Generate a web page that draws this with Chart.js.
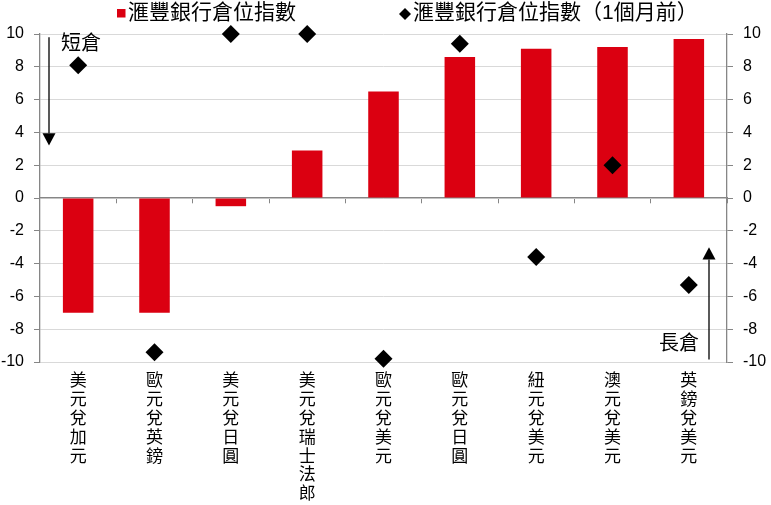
<!DOCTYPE html>
<html>
<head>
<meta charset="utf-8">
<script src="https://cdn.jsdelivr.net/npm/chart.js@4.4.1/dist/chart.umd.min.js"></script>
<style>
html,body{margin:0;padding:0;background:#fff;}
#wrap{width:771px;height:505px;}
</style>
</head>
<body>
<div id="wrap"><canvas id="c" width="771" height="505"></canvas></div>
<script>
const categories = ['美元兌加元','歐元兌英鎊','美元兌日圓','美元兌瑞士法郎','歐元兌美元','歐元兌日圓','紐元兌美元','澳元兌美元','英鎊兌美元'];
const currentIndex = [-7.0, -7.0, -0.5, 2.9, 6.5, 8.6, 9.1, 9.2, 9.7];
const monthAgoIndex = [8.1, -9.4, 10.0, 10.0, -9.8, 9.4, -3.6, 2.0, -5.3];
const seriesNames = ['滙豐銀行倉位指數', '滙豐銀行倉位指數（1個月前）'];
const yTicks = { min: -10, max: 10, step: 2 };

const FONT = "'Liberation Sans', 'Noto Sans CJK TC', sans-serif";
const RED = '#DB0011';
const AXIS = '#868686';
const GRID = '#D9D9D9';

const legendPlugin = {
  id: 'customLegend',
  afterDraw(chart) {
    const ctx = chart.ctx;
    ctx.save();
    ctx.font = '21px ' + FONT;
    ctx.textBaseline = 'middle';
    ctx.fillStyle = RED;
    ctx.fillRect(117, 9, 8.5, 8.5);
    ctx.fillStyle = '#000';
    ctx.fillText(seriesNames[0], 128, 13.5);
    const cx = 405, cy = 14, r = 6;
    ctx.beginPath();
    ctx.moveTo(cx, cy - r); ctx.lineTo(cx + r, cy); ctx.lineTo(cx, cy + r); ctx.lineTo(cx - r, cy);
    ctx.closePath(); ctx.fill();
    ctx.fillText(seriesNames[1], 413, 13.5);
    ctx.restore();
  }
};

const annotationPlugin = {
  id: 'arrows',
  afterDatasetsDraw(chart) {
    const ctx = chart.ctx, a = chart.chartArea, y = chart.scales.y;
    ctx.save();
    ctx.strokeStyle = '#000'; ctx.fillStyle = '#000'; ctx.lineWidth = 1.3;
    let x = a.left + 9;
    let y0 = y.getPixelForValue(9.8), tip = y.getPixelForValue(3.2), base = y.getPixelForValue(3.95);
    ctx.beginPath(); ctx.moveTo(x, y0); ctx.lineTo(x, base); ctx.stroke();
    ctx.beginPath(); ctx.moveTo(x - 6.5, base); ctx.lineTo(x + 6.5, base); ctx.lineTo(x, tip); ctx.closePath(); ctx.fill();
    x = a.right - 18;
    y0 = y.getPixelForValue(-9.85); tip = y.getPixelForValue(-3.0); base = y.getPixelForValue(-3.75);
    ctx.beginPath(); ctx.moveTo(x, y0); ctx.lineTo(x, base); ctx.stroke();
    ctx.beginPath(); ctx.moveTo(x - 6.5, base); ctx.lineTo(x + 6.5, base); ctx.lineTo(x, tip); ctx.closePath(); ctx.fill();
    ctx.font = '20px ' + FONT;
    ctx.textBaseline = 'middle';
    ctx.textAlign = 'left';
    ctx.fillText('短倉', a.left + 21, y.getPixelForValue(9.35));
    ctx.textAlign = 'right';
    ctx.fillText('長倉', a.right - 28, y.getPixelForValue(-8.95));
    ctx.restore();
  }
};

const tickFont = { family: FONT, size: 16 };

new Chart(document.getElementById('c'), {
  data: {
    labels: categories.map(s => s.split('')),
    datasets: [
      {
        type: 'line',
        label: seriesNames[1],
        data: monthAgoIndex,
        showLine: false,
        pointStyle: 'rectRot',
        pointRadius: 9,
        pointHoverRadius: 9,
        pointBackgroundColor: '#000',
        pointBorderWidth: 0,
        borderColor: '#000',
        clip: false,
        order: 0,
        xAxisID: 'x',
        yAxisID: 'y'
      },
      {
        type: 'bar',
        label: seriesNames[0],
        data: currentIndex,
        backgroundColor: RED,
        borderWidth: 0,
        barPercentage: 0.4,
        categoryPercentage: 1.0,
        order: 1,
        xAxisID: 'x',
        yAxisID: 'y'
      }
    ]
  },
  plugins: [legendPlugin, annotationPlugin],
  options: {
    responsive: false,
    animation: false,
    layout: { padding: { top: 34, left: 0, right: 0, bottom: 0 } },
    plugins: { legend: { display: false }, tooltip: { enabled: false } },
    scales: {
      x: {
        type: 'category',
        position: 'bottom',
        offset: true,
        grid: { display: false, drawTicks: false },
        border: { display: false },
        ticks: { font: { family: FONT, size: 17, lineHeight: 1.11 }, color: '#000', padding: 10, maxRotation: 0, minRotation: 0, autoSkip: false },
        afterFit(s) { s.height = 143; }
      },
      x0: {
        type: 'category',
        position: { y: 0 },
        offset: true,
        grid: { offset: true, drawOnChartArea: false, drawTicks: true, tickLength: 5, color: AXIS, tickColor: AXIS },
        border: { display: true, color: AXIS, width: 1.3 },
        ticks: { display: false }
      },
      y: {
        position: 'left',
        min: yTicks.min, max: yTicks.max,
        ticks: { stepSize: yTicks.step, font: tickFont, color: '#000', padding: 10 },
        grid: { color: GRID, tickColor: AXIS, tickLength: 6, lineWidth: 1 },
        border: { display: true, color: AXIS, width: 1.3 },
        afterFit(s) { s.width = 40; }
      },
      y2: {
        position: 'right',
        min: yTicks.min, max: yTicks.max,
        ticks: { stepSize: yTicks.step, font: tickFont, color: '#000', padding: 10 },
        grid: { drawOnChartArea: false, tickColor: AXIS, tickLength: 6 },
        border: { display: true, color: AXIS, width: 1.3 },
        afterFit(s) { s.width = 44; }
      }
    }
  }
});
</script>
</body>
</html>
